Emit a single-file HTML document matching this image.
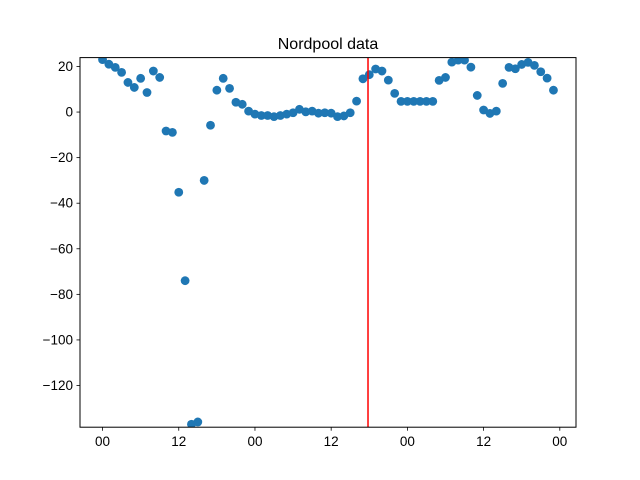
<!DOCTYPE html>
<html><head><meta charset="utf-8"><style>
body{margin:0;background:#fff}
svg{display:block;font-family:"Liberation Sans","DejaVu Sans",sans-serif}
</style></head><body>
<svg id="chart" width="640" height="480" viewBox="0 0 640 480">
<rect width="640" height="480" fill="#fff"/>
<text x="328" y="49" text-anchor="middle" font-size="16" fill="#000">Nordpool data</text>
<g id="marks"></g>
<g id="axes"></g>
</svg>
<script>
const hours = [];
for (let i = 0; i < 72; i++) hours.push(i);
const prices = [23,21,19.6,17.4,13,10.8,14.8,8.6,18,15.2,-8.3,-8.9,-35.2,-74,-137,-136,-30,-5.8,9.6,14.8,10.4,4.3,3.4,0.4,-0.9,-1.5,-1.5,-2,-1.5,-0.9,-0.3,1.2,0.1,0.4,-0.5,-0.3,
-0.5,-2,-1.7,-0.3,4.8,14.6,16.4,18.9,18,14,8.2,4.7,4.7,4.7,4.7,4.7,4.7,13.9,15.2,21.9,22.8,22.8,19.7,7.3,0.9,-0.6,0.4,12.6,19.6,19,20.9,21.8,20.5,17.7,14.9,9.6];
const nowHour = [41.8];
const yTicks = [20,0,-20,-40,-60,-80,-100,-120];
const xTickHours = [0,12,24,36,48,60,72];
const xTickLabels = ["00","12","00","12","00","12","00"];
const yLimits = [-138.3, 23.9];
const xLimits = [-3.55, 74.55];

const L=80,R=576,T=57.6,B=427.2;
const xs = h => L + (h - xLimits[0]) / (xLimits[1]-xLimits[0]) * (R-L);
const ys = v => B - (v - yLimits[0]) / (yLimits[1]-yLimits[0]) * (B-T);
const NS="http://www.w3.org/2000/svg";
const svg=document.getElementById('chart');
const marks=document.getElementById('marks');
const axes=document.getElementById('axes');
function mk(tag,attrs,parent){const e=document.createElementNS(NS,tag);for(const k in attrs)e.setAttribute(k,attrs[k]);parent.appendChild(e);return e;}

const defs=mk('defs',{},svg);
const cp=mk('clipPath',{id:'clip'},defs);
mk('rect',{x:L,y:T,width:R-L,height:B-T},cp);
marks.setAttribute('clip-path','url(#clip)');

hours.forEach((h,i)=>{
  const c=mk('circle',{cx:xs(h),cy:ys(prices[i]),r:4.4,fill:'#1f77b4'},marks);
  
  
});
nowHour.forEach(h=>{
  const l=mk('line',{x1:xs(h),x2:xs(h),y1:T,y2:B,stroke:'#ff0000','stroke-width':1.5},marks);
  
  
});

const frame=mk('rect',{x:L,y:T,width:R-L,height:B-T,fill:'none',stroke:'#000','stroke-width':1},axes);



yTicks.forEach(v=>{
  const y=ys(v);
  mk('line',{x1:L-3.5,x2:L,y1:y,y2:y,stroke:'#000','stroke-width':0.8},axes);
  const t=mk('text',{x:L-7,y:y+4.5,'text-anchor':'end','font-size':13.5,fill:'#000'},axes);
  t.textContent=(v<0?'\u2212'+(-v):String(v));
  
  
});
xTickHours.forEach((h,i)=>{
  const x=xs(h);
  mk('line',{x1:x,x2:x,y1:B,y2:B+3.5,stroke:'#000','stroke-width':0.8},axes);
  const t=mk('text',{x:x,y:B+19,'text-anchor':'middle','font-size':13.5,fill:'#000'},axes);
  t.textContent=xTickLabels[i];
  
  
});
</script>
</body></html>
